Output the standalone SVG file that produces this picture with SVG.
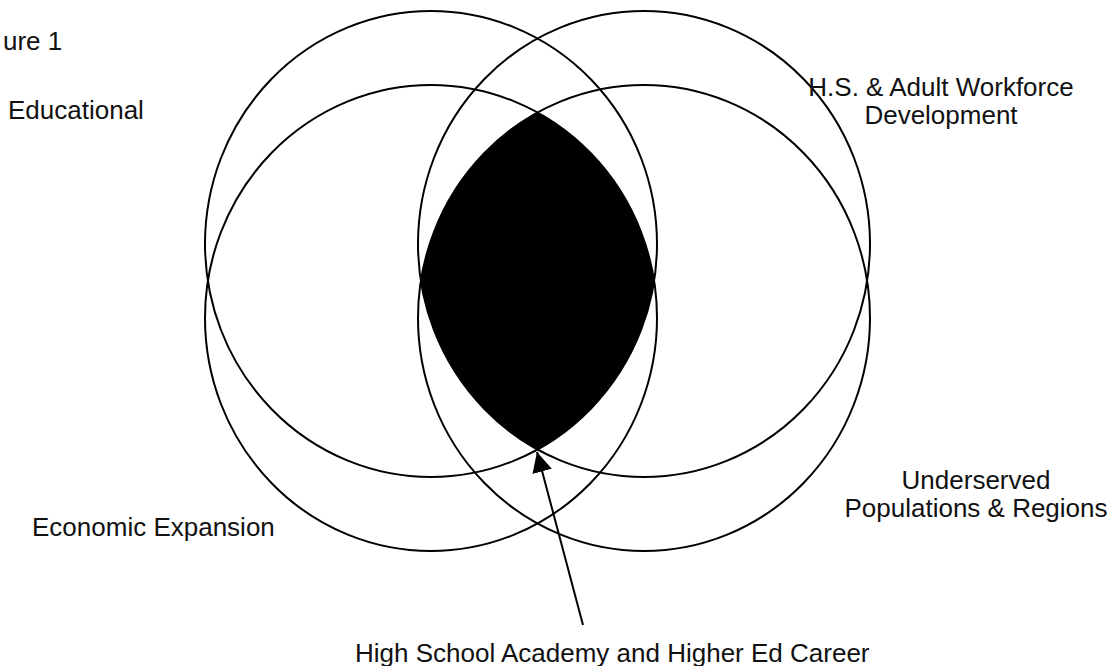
<svg xmlns="http://www.w3.org/2000/svg" width="1120" height="666" viewBox="0 0 1120 666">
<defs>
<style>
.ring{fill:none;stroke:#000;stroke-width:2}
.lbl{font-family:"Liberation Sans",Arial,Helvetica,sans-serif;font-size:26px;fill:#111}
.mid{text-anchor:middle}
.conn{stroke:#000;stroke-width:2;fill:none}
</style>
<marker id="ah" viewBox="0 0 20 20" refX="20" refY="10" markerWidth="20" markerHeight="20" markerUnits="userSpaceOnUse" orient="auto">
<path d="M0,0 L20,10 L0,20 Z" fill="#000"/>
</marker>
</defs>
<rect width="1120" height="666" fill="#fff"/>
<g id="educational">
<ellipse class="ring" cx="431" cy="244" rx="226" ry="233"/>
<text class="lbl" x="8" y="119">Educational</text>
</g>
<g id="economic">
<ellipse class="ring" cx="431" cy="318" rx="226" ry="233"/>
<text class="lbl" x="32" y="536">Economic Expansion</text>
</g>
<g id="workforce">
<ellipse class="ring" cx="644" cy="244" rx="226" ry="233"/>
<text class="lbl mid" x="941" y="96">H.S. &amp; Adult Workforce</text>
<text class="lbl mid" x="941" y="124">Development</text>
</g>
<g id="underserved">
<ellipse class="ring" cx="644" cy="318" rx="226" ry="233"/>
<text class="lbl mid" x="976" y="489">Underserved</text>
<text class="lbl mid" x="976" y="517">Populations &amp; Regions</text>
</g>
<g id="overlap">
<path fill="#000" d="M537.5,112.5 A226,233 0 0,1 654.1,281 A226,233 0 0,1 537.5,449.5 A226,233 0 0,1 420.9,281 A226,233 0 0,1 537.5,112.5 Z"/>
<text class="lbl" x="355" y="662">High School Academy and Higher Ed Career</text>
</g>
<g id="title">
<text class="lbl" x="3" y="50">ure 1</text>
</g>
<g id="connectors">
<line class="conn" x1="583" y1="625" x2="537" y2="452" marker-end="url(#ah)"/>
</g>
</svg>
